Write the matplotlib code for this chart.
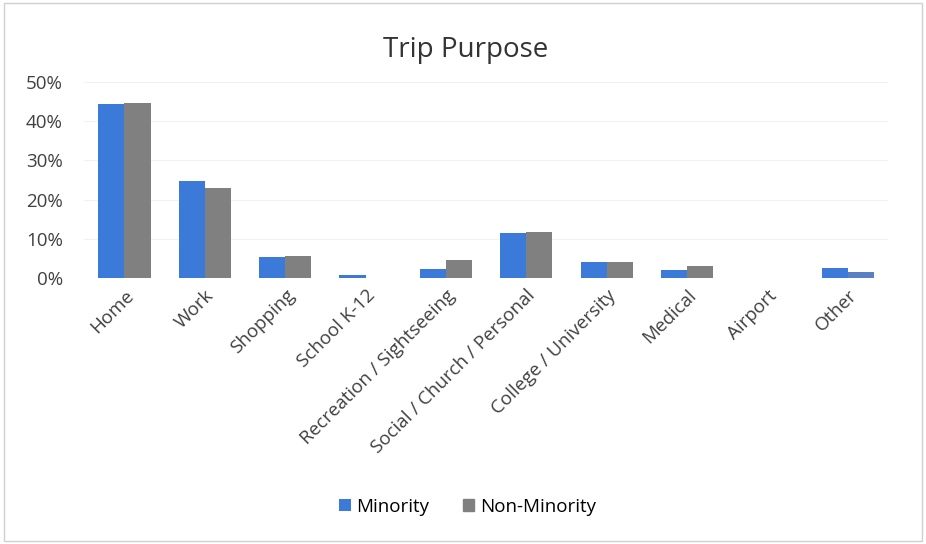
import matplotlib
matplotlib.use("Agg")
import matplotlib.pyplot as plt
import numpy as np
from matplotlib.ticker import PercentFormatter

categories = ["Home", "Work", "Shopping", "School K-12", "Recreation / Sightseeing",
              "Social / Church / Personal", "College / University", "Medical",
              "Airport", "Other"]
minority = [44.4, 24.7, 5.4, 0.8, 2.3, 11.5, 4.1, 2.0, 0.0, 2.5]
non_minority = [44.6, 23.0, 5.6, 0.0, 4.6, 11.7, 4.1, 3.0, 0.0, 1.5]
series_names = ["Minority", "Non-Minority"]
yticks = [0, 10, 20, 30, 40, 50]

blue = "#3b7ad8"
gray = "#808080"

plt.rcParams["font.family"] = ["Open Sans", "DejaVu Sans"]

fig = plt.figure(figsize=(9.26, 5.44), dpi=100)
fig.patches.append(plt.Rectangle((0.004, 0.006), 0.992, 0.988, transform=fig.transFigure,
                                 fill=False, edgecolor="#d0d0d0", linewidth=1.0))
ax = fig.add_axes([0.091, 0.489, 0.868, 0.36])

x = np.arange(len(categories))
w = 0.325
nm_colors = [gray] * len(categories)
nm_colors[-1] = "#5a7fc4"
ax.bar(x - w / 2, minority, w, color=blue, label=series_names[0])
ax.bar(x + w / 2, non_minority, w, color=nm_colors, label=series_names[1])

ax.set_ylim(0, 50)
ax.set_xlim(-0.5, len(categories) - 0.5)
ax.set_yticks(yticks)
ax.yaxis.set_major_formatter(PercentFormatter(decimals=0))
ax.grid(axis="y", color="#f2f2f2", linewidth=0.8)
ax.set_axisbelow(True)
for s in ax.spines.values():
    s.set_visible(False)
ax.tick_params(axis="both", length=0, labelsize=13.5, colors="#404040")
ax.tick_params(axis="y", pad=15.5)
ax.tick_params(axis="x", pad=6)
ax.set_xticks(x)
ax.set_xticklabels(categories, rotation=45, ha="right", rotation_mode="anchor")

fig.text(0.503, 0.908, "Trip Purpose", ha="center", va="center", fontsize=20, color="#333333")

handles, labels = ax.get_legend_handles_labels()
leg = fig.legend(handles, labels, loc="center", bbox_to_anchor=(0.505, 0.068), ncol=2,
                 frameon=False, fontsize=13.5, handlelength=0.6, handleheight=0.6,
                 handletextpad=0.3, columnspacing=1.8)
leg.legend_handles[1].set_color(gray)

fig.savefig("out.png", dpi=100)
